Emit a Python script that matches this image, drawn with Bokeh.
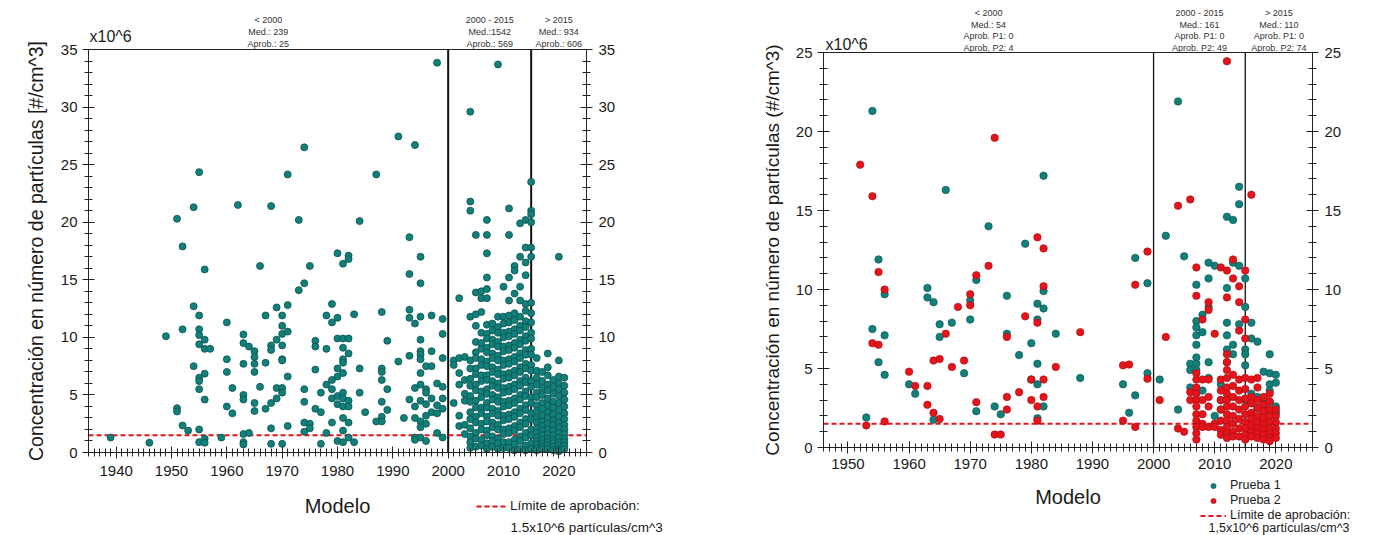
from bokeh.plotting import figure
from bokeh.models import (Range1d, LinearAxis, SingleIntervalTicker, FixedTicker, Label,
                          Legend, LegendItem)
from bokeh.layouts import row
from bokeh.embed import file_html
from bokeh.resources import INLINE

FUENTE = "Liberation Sans"
VERDE = "#12807a"
VERDE_BORDE = "#0a504c"
ROJO = "#e3141b"
ROJO_BORDE = "#a50d12"
TINTA = "#1a1a1a"

cortes = [2000, 2015]
limite = 1.5

# ---------------- Panel izquierdo (todos los vehículos) ----------------
izq_rango_x = (1935, 2025)
izq_rango_y = (0, 35)

izq_anios_pre = [1939, 1946, 1949, 1951, 1952, 1953, 1954, 1955, 1956, 1957, 1959,
                 1960, 1961, 1962, 1963, 1964, 1965, 1966, 1967, 1968, 1969, 1970,
                 1971, 1973, 1974, 1975, 1976, 1977, 1978, 1979, 1980, 1981, 1982,
                 1983, 1984, 1985, 1987, 1988, 1989, 1991, 1992, 1993, 1994, 1995,
                 1996, 1997, 1998, 1999]
izq_conc_pre = [
    [1.3], [0.85], [10.1], [20.3, 3.85, 3.56], [17.9, 10.7, 2.35], [1.9],
    [21.3, 12.7, 7.5], [24.35, 11.9, 10.7, 10.2, 9.4, 6.5, 6.2, 5.5, 2.0, 0.9],
    [15.9, 9.8, 9.0, 6.85, 4.6, 1.2, 0.85], [9.0], [1.3],
    [11.3, 8.1, 7.0, 4.0], [5.6, 3.4], [21.5],
    [10.25, 9.5, 7.7, 5.0, 4.6, 1.6, 0.9, 0.7], [9.2, 1.7],
    [8.8, 8.3, 7.7, 7.0, 4.3, 3.6], [16.2, 5.7], [11.9, 7.8, 3.8],
    [21.4, 9.3, 8.9, 4.3, 2.1, 0.75], [12.6, 9.8, 5.6, 4.7],
    [11.9, 11.0, 10.3, 9.3, 8.1, 8.0, 5.6, 5.2, 0.75],
    [24.15, 12.8, 10.5, 6.6, 2.3], [20.2, 14.1], [26.5, 14.7, 5.5, 4.4, 2.6, 1.8],
    [16.2, 2.5, 2.1], [9.7, 9.2, 7.2, 3.8], [5.2, 3.5, 0.75], [11.9, 9.0, 5.9, 1.7],
    [12.9, 11.3, 6.3, 5.5, 4.7, 2.6], [17.3, 11.7, 9.9, 7.3, 6.6, 4.9, 4.2, 1.0],
    [16.4, 9.9, 9.1, 8.1, 7.8, 6.9, 5.2, 4.7, 4.0, 3.0, 1.9, 0.9],
    [17.1, 16.8, 9.9, 8.6, 4.5, 4.0, 2.6, 1.3], [12.0, 0.9], [20.1, 7.3, 5.2], [3.5],
    [24.15, 2.7], [12.2, 7.3, 7.0, 6.3, 4.4, 3.1, 2.7], [9.7, 5.5, 3.7], [27.45, 7.9],
    [3.0], [18.7, 15.5, 12.4, 11.7, 8.4, 4.6], [26.7, 11.2, 5.6, 4.0, 3.0, 1.3, 1.1],
    [17.0, 14.7, 11.8, 9.8, 8.8, 8.5, 8.1, 6.9, 5.9, 4.5, 2.7, 2.2, 1.3],
    [7.5, 5.5, 5.2, 4.2, 3.2, 2.5, 1.0], [11.9, 8.8, 7.5, 4.7, 3.5],
    [33.85, 6.0, 4.1, 3.4, 1.7], [11.6, 10.3, 8.2, 5.7, 4.7, 3.8, 1.3]]

izq_anios_mid = [2001, 2002, 2003, 2004, 2005, 2006, 2007, 2008, 2009, 2010,
                 2011, 2012, 2013, 2014, 2015]
izq_conc_mid = [
    [8.0, 7.6, 4.3],
    [13.4, 8.2, 6.9, 5.9, 3.2, 2.3],
    [8.3, 6.3, 5.1, 4.5, 2.4, 1.6],
    [29.6, 21.8, 21.0, 11.8, 8.0, 7.3, 6.4, 5.8, 4.9, 4.4, 3.5, 2.9, 2.1, 1.4, 0.9, 0.4],
    [18.9, 13.9, 12.0, 11.0, 9.6, 8.7, 8.2, 7.3, 6.8, 5.9, 5.4, 4.5, 3.9, 3.1, 2.6, 1.7, 1.2, 0.5],
    [14.0, 13.4, 12.2, 10.4, 9.5, 9.0, 8.1, 7.6, 6.7, 6.2, 5.3, 4.8, 3.9, 3.4, 2.5, 2.0, 1.1, 0.6],
    [20.2, 18.9, 17.3, 15.2, 14.2, 13.4, 11.1, 10.3, 9.9, 9.1, 8.7, 7.9, 7.5, 6.7, 6.3,
     5.5, 5.1, 4.3, 3.9, 3.1, 2.7, 1.9, 1.5, 0.8, 0.3],
    [11.2, 10.6, 9.8, 9.4, 8.6, 8.2, 7.4, 7.0, 6.2, 5.8, 5.0, 4.6, 3.8, 3.4, 2.6, 2.2, 1.4, 1.0, 0.5],
    [33.7, 11.8, 10.9, 10.4, 9.6, 9.2, 8.4, 8.0, 7.2, 6.8, 6.0, 5.6, 4.8, 4.4, 3.6, 3.2,
     2.4, 2.0, 1.2, 0.8, 0.3],
    [14.4, 11.8, 11.2, 10.4, 10.0, 9.2, 8.8, 8.0, 7.6, 6.8, 6.4, 5.6, 5.2, 4.4, 4.0, 3.2,
     2.8, 2.0, 1.6, 0.9, 0.4],
    [21.2, 18.9, 15.2, 13.2, 11.9, 11.3, 10.5, 10.1, 9.3, 8.9, 8.1, 7.7, 6.9, 6.5, 5.7,
     5.3, 4.5, 4.1, 3.3, 2.9, 2.1, 1.7, 0.9, 0.4],
    [16.2, 15.8, 13.8, 12.1, 11.5, 10.7, 10.3, 9.5, 9.1, 8.3, 7.9, 7.1, 6.7, 5.9, 5.5,
     4.7, 4.3, 3.5, 3.1, 2.3, 1.9, 1.1, 0.7, 0.2],
    [19.9, 17.0, 14.4, 13.2, 11.8, 11.0, 10.6, 9.8, 9.4, 8.6, 8.2, 7.4, 7.0, 6.2, 5.8,
     5.0, 4.6, 3.8, 3.4, 2.6, 2.2, 1.4, 1.0, 0.3],
    [20.2, 17.8, 16.5, 15.4, 12.9, 12.3, 11.4, 10.9, 10.1, 9.7, 8.9, 8.5, 7.7, 7.3, 6.5,
     6.1, 5.3, 4.9, 4.1, 3.7, 2.9, 2.5, 1.7, 1.3, 0.6, 0.2],
    [23.5, 21.0, 20.7, 20.0, 17.8, 17.0, 13.0, 12.1, 11.3, 10.4, 9.9, 9.0, 8.5, 7.6, 7.1,
     6.2, 5.7, 4.8, 4.3, 3.4, 2.9, 2.0, 1.5, 0.8, 0.3]]

izq_anios_post = [2016, 2017, 2018, 2019, 2020, 2021]
izq_conc_post = [
    [8.2, 7.1, 6.5, 5.9, 5.2, 4.8, 4.1, 3.6, 3.0, 2.6, 2.1, 1.7, 1.3, 1.0, 0.7, 0.4, 0.2],
    [7.0, 6.2, 5.6, 5.0, 4.3, 3.8, 3.2, 2.7, 2.3, 1.9, 1.5, 1.1, 0.8, 0.5, 0.3],
    [8.6, 7.4, 6.7, 5.9, 5.4, 4.7, 4.1, 3.5, 3.0, 2.5, 2.0, 1.6, 1.2, 0.9, 0.6, 0.3],
    [6.3, 5.7, 5.1, 4.4, 3.9, 3.3, 2.8, 2.4, 1.9, 1.5, 1.1, 0.8, 0.5, 0.2],
    [17.0, 8.0, 6.6, 6.0, 5.5, 4.9, 4.3, 3.7, 3.1, 2.6, 2.2, 1.7, 1.3, 0.9, 0.6, 0.3, 0.1],
    [6.5, 5.8, 5.2, 4.6, 4.0, 3.4, 2.9, 2.4, 2.0, 1.6, 1.2, 0.9, 0.6, 0.3]]

izq_textos = [["< 2000", "Med.: 239", "Aprob.: 25"],
              ["2000 - 2015", "Med.:1542", "Aprob.: 569"],
              ["> 2015", "Med.: 934", "Aprob.: 606"]]

# ---------------- Panel derecho (Prueba 1 / Prueba 2) ----------------
der_rango_x = (1946, 2026)
der_rango_y = (0, 25)

p1_anios = [1953, 1954, 1955, 1956, 1960, 1961, 1963, 1964, 1965, 1966, 1967, 1969,
            1970, 1971, 1973, 1974, 1975, 1976, 1978, 1979, 1980, 1981, 1982, 1984,
            1988, 1995, 1996, 1997, 1999,
            2001, 2002, 2004, 2005, 2006, 2007, 2008, 2009, 2010, 2011, 2012, 2013,
            2014, 2015, 2016, 2017, 2018, 2019, 2020]
p1_conc = [
    [1.9], [21.3, 7.5], [11.9, 5.4], [9.7, 7.1, 4.6], [4.0], [3.4], [10.1, 9.5],
    [9.2, 1.76], [7.8, 7.0], [16.3], [7.9], [4.7], [9.3, 8.1], [10.6, 2.3], [14.0],
    [2.6], [2.1], [9.6, 7.2], [5.85], [12.9], [6.6, 4.3], [9.1, 8.1, 5.3, 4.0, 1.85],
    [17.2, 9.9, 8.8, 2.6], [7.2], [4.4], [4.0], [2.2], [12.0, 3.3], [10.4, 4.7],
    [4.3], [13.4], [21.9, 2.4], [12.1], [5.3, 4.9, 3.8],
    [10.3, 8.0, 7.6, 7.1, 6.5, 5.7, 5.3, 4.9], [8.4, 7.3, 3.6],
    [11.7, 10.7, 8.9, 5.4, 4.4], [11.5, 2.0], [4.0, 3.0, 2.4],
    [14.6, 10.1, 7.9, 7.1, 6.2, 5.4], [14.4, 11.7, 6.5, 5.9], [16.5, 15.4, 11.5, 7.8],
    [10.7, 8.9, 6.2, 5.9, 5.2, 3.0], [7.9, 6.9, 3.4, 2.8], [6.7, 3.2, 2.5],
    [4.8, 3.1, 2.6, 2.2], [5.9, 4.7, 4.0, 3.6, 2.9], [4.6, 4.1, 2.6, 2.2]]

p2_anios = [1952, 1953, 1954, 1955, 1956, 1960, 1961, 1963, 1964, 1965, 1966, 1967,
            1968, 1969, 1970, 1971, 1973, 1974, 1975, 1976, 1978, 1979, 1980, 1981,
            1982, 1984, 1988, 1995, 1996, 1997, 1999,
            2001, 2002, 2004, 2005, 2006, 2007, 2008, 2009, 2010, 2011, 2012, 2013,
            2014, 2015, 2016, 2017, 2018, 2019, 2020]
p2_conc = [
    [17.9], [1.4], [15.9, 6.6], [11.1, 6.5], [10.0, 1.65], [4.8], [3.9], [3.9, 2.7],
    [5.5, 2.2], [5.6, 1.8], [7.2], [5.1], [8.9], [5.5], [9.7, 9.0], [10.9, 2.87],
    [11.5], [19.6, 0.82], [0.82], [7.0, 3.2, 2.4], [3.5], [8.3], [4.3, 3.0],
    [13.3, 7.9, 2.6, 1.7], [12.6, 10.2, 4.3, 3.2], [5.1], [7.3], [5.2, 1.7], [5.25],
    [10.3, 1.3], [12.4, 4.35],
    [3.0], [7.0], [15.3, 1.2], [1.0], [15.7, 3.5, 3.0],
    [11.4, 9.6, 4.7, 4.3, 3.8, 3.4, 3.0, 2.6, 2.1, 1.7, 1.3, 0.9, 0.5],
    [8.1, 4.3, 3.0, 2.1, 1.5, 1.3], [9.2, 8.7, 4.3, 3.2, 2.6, 1.3], [7.2, 1.5, 1.3],
    [11.4, 4.3, 3.6, 3.0, 2.4, 1.7, 1.1, 0.8],
    [24.45, 11.2, 9.5, 5.9, 5.4, 4.9, 4.4, 3.8, 3.4, 3.0, 2.6, 2.1, 1.7, 1.3, 0.9, 0.6],
    [11.9, 10.7, 4.6, 3.9, 3.2, 2.6, 2.0, 1.5, 1.0, 0.7],
    [10.2, 9.2, 7.4, 4.3, 3.6, 3.0, 2.4, 1.8, 1.2, 0.7],
    [11.2, 8.1, 6.9, 4.4, 3.7, 3.1, 2.6, 2.1, 1.6, 1.2, 0.8, 0.5],
    [16.0, 4.3, 3.2, 2.8, 2.2, 1.8, 1.4, 1.0, 0.7],
    [4.4, 3.8, 3.0, 2.5, 2.0, 1.6, 1.2, 0.9, 0.6],
    [3.2, 2.7, 2.3, 1.9, 1.5, 1.1, 0.8, 0.5],
    [3.4, 2.9, 2.4, 2.0, 1.6, 1.2, 0.9, 0.6, 0.4],
    [2.4, 2.0, 1.6, 1.2, 0.9, 0.6]]

der_textos = [["< 2000", "Med.: 54", "Aprob. P1: 0", "Aprob. P2: 4"],
              ["2000 - 2015", "Med.: 161", "Aprob. P1: 0", "Aprob. P2: 49"],
              ["> 2015", "Med.: 110", "Aprob. P1: 0", "Aprob. P2: 74"]]


def aplanar(anios, conc):
    xs, ys = [], []
    for a, vals in zip(anios, conc):
        for v in vals:
            xs.append(a)
            ys.append(v)
    return xs, ys


def estilo_eje(ax, tick_font="15px"):
    ax.axis_line_color = "#222222"
    ax.axis_line_width = 1
    ax.major_tick_line_color = "#222222"
    ax.minor_tick_line_color = "#222222"
    ax.major_tick_in = 6
    ax.major_tick_out = 6
    ax.minor_tick_in = 4
    ax.minor_tick_out = 4
    ax.major_label_text_font = FUENTE
    ax.major_label_text_font_size = tick_font
    ax.major_label_text_color = TINTA
    ax.axis_label_text_font = FUENTE
    ax.axis_label_text_font_style = "normal"
    ax.axis_label_text_color = TINTA


def crear_panel(ancho, alto, area, rx, ry, ylabel, ylabel_size, x_std, xl_std, yl_std,
                ancho_corte):
    # area = (izq, der, arriba, abajo) en pixeles del lienzo; el marco cubre todo el lienzo
    l, r, t, b = area
    sx = (r - l) / (rx[1] - rx[0])
    sy = (b - t) / (ry[1] - ry[0])
    p = figure(width=ancho, height=alto,
               x_range=Range1d(rx[0] - l / sx, rx[1] + (ancho - r) / sx),
               y_range=Range1d(ry[0] - (alto - b) / sy, ry[1] + t / sy),
               output_backend="svg", toolbar_location=None,
               min_border_left=0, min_border_right=0, min_border_top=0, min_border_bottom=0)
    p.title.visible = False
    p.xgrid.visible = False
    p.ygrid.visible = False
    p.outline_line_color = None
    p.background_fill_color = "white"
    p.border_fill_color = "white"

    ax = p.xaxis[0]
    ax.fixed_location = ry[0]
    ax.bounds = rx
    ax.ticker = SingleIntervalTicker(interval=10, num_minor_ticks=10)
    ax.axis_label = "Modelo"
    estilo_eje(ax)
    ax.axis_label_text_font_size = "20px"
    ax.major_label_standoff = x_std
    ax.axis_label_standoff = xl_std

    ay = p.yaxis[0]
    ay.fixed_location = rx[0]
    ay.bounds = ry
    ay.ticker = SingleIntervalTicker(interval=5, num_minor_ticks=5)
    ay.axis_label = ylabel
    estilo_eje(ay)
    ay.axis_label_text_font_size = ylabel_size
    ay.major_label_standoff = 5
    ay.axis_label_standoff = yl_std

    eje_der = LinearAxis(fixed_location=rx[1], bounds=ry,
                         ticker=SingleIntervalTicker(interval=5, num_minor_ticks=5))
    estilo_eje(eje_der)
    eje_der.major_label_standoff = 6
    p.add_layout(eje_der, "right")

    eje_sup = LinearAxis(fixed_location=ry[1], bounds=rx, ticker=FixedTicker(ticks=[]))
    estilo_eje(eje_sup)
    eje_sup.major_tick_line_color = None
    eje_sup.minor_tick_line_color = None
    p.add_layout(eje_sup, "above")

    p.segment(x0=cortes, y0=[ry[0]] * len(cortes), x1=cortes, y1=[ry[1]] * len(cortes),
              line_color="#111111", line_width=ancho_corte)
    return p


def textos_superiores(p, rx, textos, ys_screen):
    centros = [(rx[0] + cortes[0]) / 2, (cortes[0] + cortes[1]) / 2, (cortes[1] + rx[1]) / 2]
    for cx, lineas in zip(centros, textos):
        for t, yy in zip(lineas, ys_screen):
            p.add_layout(Label(x=cx, y=yy, y_units="screen", text=t, text_align="center",
                               text_baseline="middle", text_font=FUENTE,
                               text_font_size="9px", text_color="#333333"))


def etiqueta(p, x, y, texto, size, align="left"):
    p.add_layout(Label(x=x, y=y, x_units="screen", y_units="screen", text=texto,
                       text_align=align, text_baseline="middle", text_font=FUENTE,
                       text_font_size=size, text_color=TINTA))


def leyenda(items, loc, gw, gh, size):
    return Legend(items=items, location=loc, orientation="vertical", padding=0,
                  spacing=1, margin=0, glyph_width=gw, glyph_height=gh, label_height=gh,
                  label_standoff=4, label_text_font=FUENTE, label_text_font_size=size,
                  label_text_color=TINTA, border_line_alpha=0, background_fill_alpha=0)


# ---- izquierda ----
pa = crear_panel(680, 535, (88, 586, 49, 452), izq_rango_x, izq_rango_y,
                 "Concentración en número de partículas [#/cm^3]", "19.5px", 7, 16, 11, 2)
linea_a = pa.line(x=list(izq_rango_x), y=[limite, limite], line_color=ROJO,
                  line_dash="5 3", line_width=2)
xs, ys = [], []
for an, co in [(izq_anios_pre, izq_conc_pre), (izq_anios_mid, izq_conc_mid),
               (izq_anios_post, izq_conc_post)]:
    x_, y_ = aplanar(an, co)
    xs += x_
    ys += y_
pa.scatter(xs, ys, size=7, fill_color=VERDE, line_color=VERDE_BORDE, line_width=0.8)
textos_superiores(pa, izq_rango_x, izq_textos, [516, 504, 492])
etiqueta(pa, 89, 499, "x10^6", "16px")
pa.add_layout(leyenda([LegendItem(label="Límite de aprobación:", renderers=[linea_a])],
                      (476, 22), 30, 14, "13.5px"))
etiqueta(pa, 510, 8, "1.5x10^6 partículas/cm^3", "13.5px")

# ---- derecha ----
pb = crear_panel(697, 535, (143, 632, 52, 447), der_rango_x, der_rango_y,
                 "Concentración en número de partículas (#/cm^3)", "19px", 5, 14, 10, 1.3)
linea_b = pb.line(x=list(der_rango_x), y=[limite, limite], line_color=ROJO,
                  line_dash="5 3", line_width=2)
x1, y1 = aplanar(p1_anios, p1_conc)
x2, y2 = aplanar(p2_anios, p2_conc)
r1 = pb.scatter(x1, y1, size=7.5, fill_color=VERDE, line_color=VERDE_BORDE, line_width=0.6)
r2 = pb.scatter(x2, y2, size=7.5, fill_color=ROJO, line_color=ROJO_BORDE, line_width=0.6)
textos_superiores(pb, der_rango_x, der_textos, [523, 511, 500, 488])
etiqueta(pb, 145, 491, "x10^6", "16px")
pb.add_layout(leyenda([LegendItem(label="Prueba 1", renderers=[r1]),
                       LegendItem(label="Prueba 2", renderers=[r2]),
                       LegendItem(label="Límite de aprobación:", renderers=[linea_b])],
                      (520, 13), 26, 13, "12.5px"))
etiqueta(pb, 528, 8, "1,5x10^6 partículas/cm^3", "12.5px")

layout = row(pa, pb)
open("out.html", "w").write(file_html(layout, INLINE))
